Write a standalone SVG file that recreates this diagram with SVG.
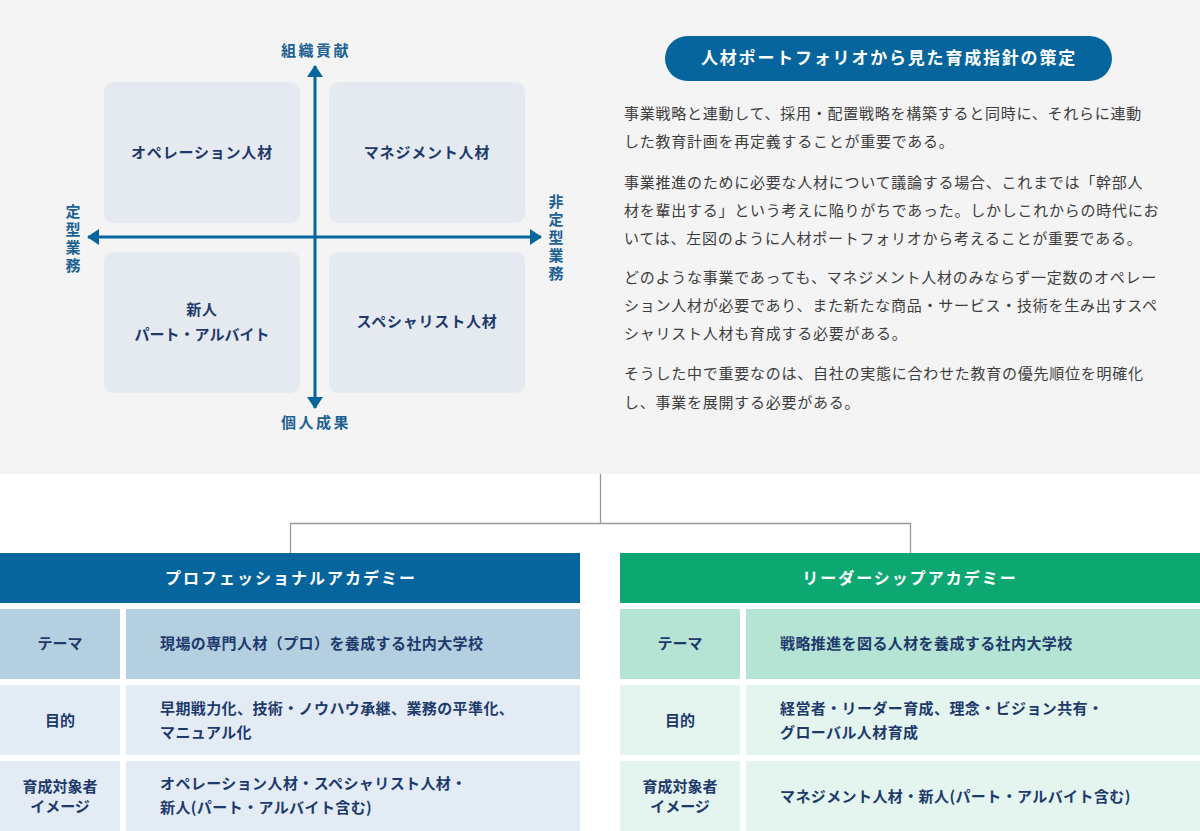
<svg xmlns="http://www.w3.org/2000/svg" width="1200" height="831" viewBox="0 0 1200 831">
<style>
text{font-family:"Noto Sans CJK JP","Noto Sans",sans-serif}
.q{fill:#e5eaf1}
.ql{font-size:15px;font-weight:700;fill:#1e3a6c;text-anchor:middle;letter-spacing:0.8px}
.ax{font-size:15px;font-weight:700;fill:#1c6193;text-anchor:middle;letter-spacing:2.5px}
.axv{font-size:15px;font-weight:700;fill:#1c6193;text-anchor:middle;writing-mode:vertical-rl;letter-spacing:3px}
.p{font-size:15px;fill:#3d3d3d;letter-spacing:0.75px}
.hd{font-size:16px;font-weight:700;fill:#fff;text-anchor:middle;letter-spacing:2px}
.th{font-size:15px;font-weight:700;fill:#1e3a6c;text-anchor:middle}
.td{font-size:15px;font-weight:700;fill:#1e3a6c;letter-spacing:0.4px}
.axis{stroke:#05659c;stroke-width:3;fill:none}
.conn{stroke:#999;stroke-width:1.3;fill:none}
</style>
<defs>
<marker id="ah" viewBox="0 0 12 16" refX="11" refY="8" markerWidth="12" markerHeight="16" markerUnits="userSpaceOnUse" orient="auto">
<path d="M0,0 L12,8 L0,16 Z" fill="#05659c"/>
</marker>
</defs>
<rect x="0" y="0" width="1200" height="474" fill="#f4f4f4"/>
<rect x="0" y="474" width="1200" height="357" fill="#fff"/>

<g id="quadrant-operation">
<rect class="q" x="104" y="82" width="196" height="141" rx="9"/>
<text class="ql" x="202" y="158">オペレーション人材</text>
</g>
<g id="quadrant-management">
<rect class="q" x="329" y="82" width="196" height="141" rx="9"/>
<text class="ql" x="427" y="158">マネジメント人材</text>
</g>
<g id="quadrant-newcomer">
<rect class="q" x="104" y="252" width="196" height="141" rx="9"/>
<text class="ql" x="202" y="315">新人</text>
<text class="ql" x="202" y="340" style="letter-spacing:0">パート・アルバイト</text>
</g>
<g id="quadrant-specialist">
<rect class="q" x="329" y="252" width="196" height="141" rx="9"/>
<text class="ql" x="427" y="327">スペシャリスト人材</text>
</g>

<g id="axes">
<line class="axis" x1="315" y1="237" x2="315" y2="66" marker-end="url(#ah)"/>
<line class="axis" x1="315" y1="237" x2="315" y2="408" marker-end="url(#ah)"/>
<line class="axis" x1="315" y1="237" x2="88" y2="237" marker-end="url(#ah)"/>
<line class="axis" x1="315" y1="237" x2="541" y2="237" marker-end="url(#ah)"/>
</g>
<g id="axis-labels">
<text class="ax" x="316" y="56">組織貢献</text>
<text class="ax" x="316" y="428">個人成果</text>
<text class="axv" x="73" y="240">定型業務</text>
<text class="axv" x="556" y="239">非定型業務</text>
</g>

<g id="title">
<rect x="665" y="36" width="447" height="45" rx="22.5" fill="#05659c"/>
<text x="889" y="64" style="font-size:17px;font-weight:700;fill:#fff;text-anchor:middle;letter-spacing:1.8px">人材ポートフォリオから見た育成指針の策定</text>
</g>

<g id="body-text">
<text class="p" x="624" y="119">事業戦略と連動して、採用・配置戦略を構築すると同時に、それらに連動</text>
<text class="p" x="624" y="147">した教育計画を再定義することが重要である。</text>
<text class="p" x="624" y="188">事業推進のために必要な人材について議論する場合、これまでは「幹部人</text>
<text class="p" x="624" y="216">材を輩出する」という考えに陥りがちであった。しかしこれからの時代にお</text>
<text class="p" x="624" y="244">いては、左図のように人材ポートフォリオから考えることが重要である。</text>
<text class="p" x="624" y="283">どのような事業であっても、マネジメント人材のみならず一定数のオペレー</text>
<text class="p" x="624" y="311">ション人材が必要であり、また新たな商品・サービス・技術を生み出すスペ</text>
<text class="p" x="624" y="339">シャリスト人材も育成する必要がある。</text>
<text class="p" x="624" y="379">そうした中で重要なのは、自社の実態に合わせた教育の優先順位を明確化</text>
<text class="p" x="624" y="408">し、事業を展開する必要がある。</text>
</g>

<g id="connectors">
<path class="conn" d="M600.5,474 V523.5 M290.5,553 V523.5 H910.5 V553"/>
</g>

<g id="professional-academy">
<rect x="0" y="553" width="580" height="50" fill="#05659c"/>
<text class="hd" x="291" y="584">プロフェッショナルアカデミー</text>
<rect x="0" y="609" width="120" height="70" fill="#b4d0e0"/>
<rect x="126" y="609" width="454" height="70" fill="#b4d0e0"/>
<rect x="0" y="685" width="120" height="70" fill="#e3ecf4"/>
<rect x="126" y="685" width="454" height="70" fill="#e3ecf4"/>
<rect x="0" y="761" width="120" height="70" fill="#e3ecf4"/>
<rect x="126" y="761" width="454" height="70" fill="#e3ecf4"/>
<text class="th" x="60" y="649">テーマ</text>
<text class="td" x="160" y="649">現場の専門人材（プロ）を養成する社内大学校</text>
<text class="th" x="60" y="726">目的</text>
<text class="td" x="160" y="714">早期戦力化、技術・ノウハウ承継、業務の平準化、</text>
<text class="td" x="160" y="738">マニュアル化</text>
<text class="th" x="60" y="792">育成対象者</text>
<text class="th" x="60" y="812">イメージ</text>
<text class="td" x="160" y="789">オペレーション人材・スペシャリスト人材・</text>
<text class="td" x="160" y="813">新人(パート・アルバイト含む)</text>
</g>

<g id="leadership-academy">
<rect x="620" y="553" width="580" height="50" fill="#0da872"/>
<text class="hd" x="910" y="584">リーダーシップアカデミー</text>
<rect x="620" y="609" width="120" height="70" fill="#b5e3d4"/>
<rect x="746" y="609" width="454" height="70" fill="#b5e3d4"/>
<rect x="620" y="685" width="120" height="70" fill="#e4f5ef"/>
<rect x="746" y="685" width="454" height="70" fill="#e4f5ef"/>
<rect x="620" y="761" width="120" height="70" fill="#e4f5ef"/>
<rect x="746" y="761" width="454" height="70" fill="#e4f5ef"/>
<text class="th" x="680" y="649">テーマ</text>
<text class="td" x="780" y="649">戦略推進を図る人材を養成する社内大学校</text>
<text class="th" x="680" y="726">目的</text>
<text class="td" x="780" y="714">経営者・リーダー育成、理念・ビジョン共有・</text>
<text class="td" x="780" y="738">グローバル人材育成</text>
<text class="th" x="680" y="792">育成対象者</text>
<text class="th" x="680" y="812">イメージ</text>
<text class="td" x="780" y="802">マネジメント人材・新人(パート・アルバイト含む)</text>
</g>
</svg>
